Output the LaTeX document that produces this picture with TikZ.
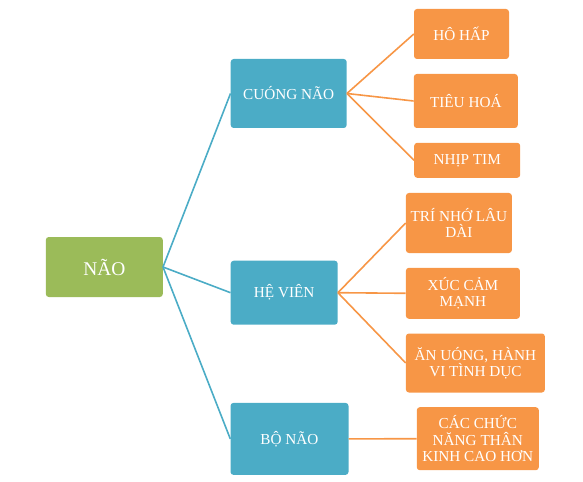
\documentclass[tikz,border=0pt]{standalone}
\usepackage{fontspec}
\setmainfont{Liberation Serif}
\usepackage{tikz}
\definecolor{naogreen}{HTML}{9BBB59}
\definecolor{partblue}{HTML}{4BACC6}
\definecolor{taskorange}{HTML}{F79646}

\begin{document}
\begin{tikzpicture}[x=1bp,y=-1bp]
		\tikzstyle{box}=[rectangle, rounded corners=3bp, inner sep=0pt, text=white, align=center]
		\tikzstyle{root}=[box, fill=naogreen, font=\fontsize{19.5}{22}\selectfont]
		\tikzstyle{part}=[box, fill=partblue, font=\fontsize{15.3}{16.4}\selectfont]
		\tikzstyle{task}=[box, fill=taskorange, font=\fontsize{15.3}{16.4}\selectfont]
		\tikzstyle{blue link}=[draw=partblue, line width=1.6bp]
		\tikzstyle{orange link}=[draw=taskorange, line width=1.6bp]

		\useasboundingbox (0,0) rectangle (583,482);

		\node [root, minimum width=117bp, minimum height=60bp] (nao) at (104.3,267) {NÃO};

		\node [part, minimum width=116bp, minimum height=69bp] (cn) at (288.7,93.5) {CUÓNG NÃO};
		\node [part, minimum width=107bp, minimum height=64bp] (hv) at (284.2,292.7) {HỆ VIÊN};
		\node [part, minimum width=118bp, minimum height=72bp] (bn) at (289.5,438.9) {BỘ NÃO};

		\node [task, minimum width=95bp, minimum height=50bp] (hh) at (461.5,34) {HÔ HẤP};
		\node [task, minimum width=104bp, minimum height=54bp] (th) at (465.8,101) {TIÊU HOÁ};
		\node [task, minimum width=106bp, minimum height=35bp] (nt) at (467.2,160.3) {NHỊP TIM};
		\node [task, minimum width=106bp, minimum height=60bp] (tn) at (458.9,223) {TRÍ NHỚ LÂU\\DÀI};
		\node [task, minimum width=114bp, minimum height=51bp] (xc) at (462.9,293.3) {XÚC CẢM\\MẠNH};
		\node [task, minimum width=139bp, minimum height=59bp] (au) at (475.4,363) {ĂN UÓNG, HÀNH\\VI TÌNH DỤC};
		\node [task, minimum width=122bp, minimum height=63bp] (cc) at (477.8,438.7) {CÁC CHỨC\\NĂNG THÂN\\KINH CAO HƠN};

		\draw [blue link] (nao.east) -- (cn.west);
		\draw [blue link] (nao.east) -- (hv.west);
		\draw [blue link] (nao.east) -- (bn.west);

		\draw [orange link] (cn.east) -- (hh.west);
		\draw [orange link] (cn.east) -- (th.west);
		\draw [orange link] (cn.east) -- (nt.west);
		\draw [orange link] (hv.east) -- (tn.west);
		\draw [orange link] (hv.east) -- (xc.west);
		\draw [orange link] (hv.east) -- (au.west);
		\draw [orange link] (bn.east) -- (cc.west);
	\end{tikzpicture}
\end{document}
